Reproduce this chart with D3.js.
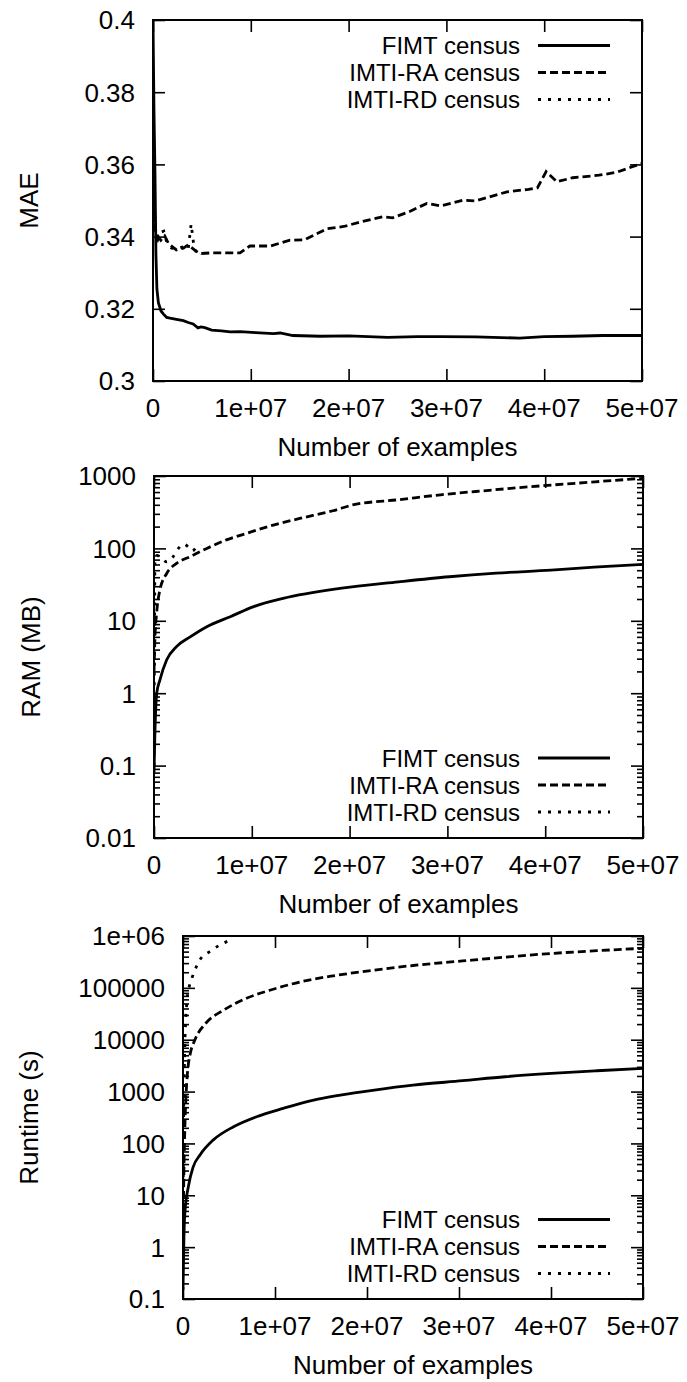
<!DOCTYPE html>
<html>
<head>
<meta charset="utf-8">
<script src="https://cdn.jsdelivr.net/npm/d3@7"></script>
<style>
  body { margin: 0; background: #fff; }
  svg text { font-family: "Liberation Sans", Arial, sans-serif; font-size: 26px; fill: #000; }
  svg text.legend { font-size: 24px; }
</style>
</head>
<body>
<div id="chart"></div>
<script>
// shared axis data
var xTicks = [0, 1e7, 2e7, 3e7, 4e7, 5e7];
var xTickLabels = ["0", "1e+07", "2e+07", "3e+07", "4e+07", "5e+07"];
var seriesNames = ["FIMT census", "IMTI-RA census", "IMTI-RD census"];

// panel 1 - MAE
var maeTicks = [0.3, 0.32, 0.34, 0.36, 0.38, 0.4];
var maeTickLabels = ["0.3", "0.32", "0.34", "0.36", "0.38", "0.4"];
var maeFimt = [[0, 0.4], [0.1e6, 0.375], [0.2e6, 0.358], [0.3e6, 0.335], [0.4e6, 0.3255], [0.55e6, 0.3217],
  [0.82e6, 0.3194], [1.05e6, 0.3186], [1.4e6, 0.3176], [1.74e6, 0.3174], [2.4e6, 0.3171], [3.1e6, 0.3167],
  [3.6e6, 0.3162], [4.1e6, 0.3158], [4.6e6, 0.3147], [4.9e6, 0.315], [5.3e6, 0.3148], [6e6, 0.3141],
  [7e6, 0.3139], [7.9e6, 0.3136], [8.9e6, 0.3137], [1.05e7, 0.3134], [1.23e7, 0.3131], [1.3e7, 0.3133],
  [1.43e7, 0.3126], [1.71e7, 0.3124], [2e7, 0.3125], [2.4e7, 0.3121], [2.7e7, 0.3123], [2.94e7, 0.3123],
  [3.3e7, 0.3122], [3.75e7, 0.3119], [4e7, 0.3123], [4.29e7, 0.3124], [4.6e7, 0.3126], [5e7, 0.3126]];
var maeRa = [[0, 0.357], [0.1e6, 0.35], [0.25e6, 0.342], [0.4e6, 0.3405], [0.8e6, 0.339], [1.2e6, 0.3402],
  [1.6e6, 0.338], [2.4e6, 0.3363], [3.1e6, 0.3368], [3.6e6, 0.3377], [4.3e6, 0.3362], [4.8e6, 0.3353],
  [6e6, 0.3355], [8.9e6, 0.3355], [9.9e6, 0.3374], [1.2e7, 0.3374], [1.4e7, 0.339], [1.55e7, 0.3391],
  [1.78e7, 0.3422], [1.95e7, 0.3428], [2.13e7, 0.3441], [2.35e7, 0.3455], [2.45e7, 0.3452], [2.62e7, 0.3469],
  [2.8e7, 0.3492], [2.94e7, 0.3485], [3.17e7, 0.3501], [3.3e7, 0.3499], [3.62e7, 0.3524], [3.84e7, 0.3531],
  [3.93e7, 0.3535], [4.02e7, 0.358], [4.13e7, 0.3552], [4.29e7, 0.3563], [4.56e7, 0.357], [4.74e7, 0.3578],
  [5e7, 0.3603]];
var maeRd = [[0, 0.356], [0.15e6, 0.345], [0.3e6, 0.3405], [0.5e6, 0.3392], [0.8e6, 0.3412], [1.1e6, 0.3415],
  [1.4e6, 0.3385], [1.9e6, 0.3368], [2.5e6, 0.3367], [3.1e6, 0.3372], [3.6e6, 0.3365], [3.9e6, 0.3435],
  [4.2e6, 0.337], [4.6e6, 0.3346], [4.8e6, 0.3352]];

// panel 2 - RAM
var ramTicks = [0.01, 0.1, 1, 10, 100, 1000];
var ramTickLabels = ["0.01", "0.1", "1", "10", "100", "1000"];
var ramFimt = [[0, 0.08], [0.1e6, 0.3], [0.28e6, 1.0], [0.6e6, 1.52], [1.3e6, 2.9], [2.3e6, 4.4],
  [3.7e6, 6.0], [5.4e6, 8.3], [7.8e6, 11.4], [1.02e7, 15.7], [1.32e7, 20.4], [1.9e7, 28], [2.5e7, 34.5],
  [3.02e7, 40.6], [3.5e7, 45.5], [4.06e7, 50], [4.5e7, 55], [5e7, 60]];
var ramRa = [[0, 2], [0.1e6, 6], [0.25e6, 12], [0.6e6, 26.6], [1.3e6, 45], [2.3e6, 62], [3.7e6, 77],
  [5.4e6, 100], [7.4e6, 131], [9.5e6, 162], [1.22e7, 210], [1.49e7, 259], [1.83e7, 331], [2.03e7, 398],
  [2.5e7, 470], [2.93e7, 550], [3.4e7, 630], [3.83e7, 708], [4.4e7, 810], [5e7, 930]];
var ramRd = [[0, 0.1], [0.05e6, 5], [0.1e6, 70], [0.3e6, 80], [0.7e6, 75], [1.3e6, 65], [1.9e6, 75],
  [2.5e6, 100], [3.0e6, 115], [3.5e6, 105], [3.9e6, 92], [4.4e6, 105], [4.8e6, 112]];

// panel 3 - Runtime
var runTicks = [0.1, 1, 10, 100, 1000, 10000, 100000, 1e6];
var runTickLabels = ["0.1", "1", "10", "100", "1000", "10000", "100000", "1e+06"];
var runFimt = [[0, 0.15], [0.1e6, 1.5], [0.2e6, 4.5], [0.58e6, 14.6], [1.1e6, 35], [1.85e6, 60],
  [3.3e6, 117], [5.5e6, 210], [8e6, 327], [1.09e7, 475], [1.42e7, 687], [1.71e7, 855], [2.08e7, 1070],
  [2.5e7, 1330], [3.04e7, 1620], [3.5e7, 1930], [4e7, 2240], [4.5e7, 2520], [5e7, 2800]];
var runRa = [[0, 1], [0.1e6, 30], [0.2e6, 200], [0.35e6, 1000], [0.55e6, 3000], [0.8e6, 5500], [1.3e6, 1e4],
  [2.5e6, 2.1e4], [4.4e6, 3.7e4], [6.9e6, 6.3e4], [9.8e6, 9.4e4], [1.34e7, 1.38e5], [1.63e7, 1.7e5],
  [2.08e7, 2.2e5], [2.5e7, 2.7e5], [3.04e7, 3.3e5], [3.5e7, 3.9e5], [4e7, 4.6e5], [4.5e7, 5.2e5], [5e7, 5.8e5]];
var runRd = [[0, 1], [0.05e6, 100], [0.15e6, 3000], [0.3e6, 2.5e4], [0.45e6, 6e4], [0.7e6, 1.1e5],
  [1e6, 1.6e5], [1.85e6, 3.5e5], [2.9e6, 5e5], [4e6, 6.7e5], [4.9e6, 8e5]];

var W = 687, H = 1382;
var dashes = [null, "8,4", "3,7"];

var svg = d3.select("#chart").append("svg")
  .attr("width", W)
  .attr("height", H);

function drawPanel(p) {
  var x = d3.scaleLinear().domain([0, 5e7]).range([p.left, p.right]);
  var y = p.log
    ? d3.scaleLog().domain(p.yDomain).range([p.bottom, p.top])
    : d3.scaleLinear().domain(p.yDomain).range([p.bottom, p.top]);

  var g = svg.append("g");
  var clipId = "clip" + p.id;
  g.append("clipPath").attr("id", clipId)
    .append("rect")
    .attr("x", p.left).attr("y", p.top - 2)
    .attr("width", p.right - p.left).attr("height", p.bottom - p.top + 2);

  // minor ticks for log axes
  if (p.log) {
    var minors = [];
    p.yTicks.forEach(function(t, i) {
      if (i < p.yTicks.length - 1) {
        for (var k = 2; k <= 9; k++) minors.push(t * k);
      }
    });
    g.append("g").attr("transform", "translate(" + p.left + ",0)")
      .call(d3.axisRight(y).tickValues(minors).tickSize(6).tickFormat(""));
    g.append("g").attr("transform", "translate(" + p.right + ",0)")
      .call(d3.axisLeft(y).tickValues(minors).tickSize(6).tickFormat(""));
  }

  // inward major ticks on all four sides
  g.append("g").attr("transform", "translate(" + p.left + ",0)")
    .call(d3.axisRight(y).tickValues(p.yTicks).tickSize(12).tickFormat(""));
  g.append("g").attr("transform", "translate(" + p.right + ",0)")
    .call(d3.axisLeft(y).tickValues(p.yTicks).tickSize(12).tickFormat(""));
  g.append("g").attr("transform", "translate(0," + p.bottom + ")")
    .call(d3.axisTop(x).tickValues(xTicks).tickSize(12).tickFormat(""));
  g.append("g").attr("transform", "translate(0," + p.top + ")")
    .call(d3.axisBottom(x).tickValues(xTicks).tickSize(12).tickFormat(""));

  g.selectAll(".domain").remove();
  g.selectAll(".tick line").attr("stroke", "#000").attr("stroke-width", 1.6);

  // tick labels
  g.append("g").selectAll("text")
    .data(p.yTicks)
    .enter().append("text")
    .attr("x", p.left - 18)
    .attr("y", function(d) { return y(d); })
    .attr("dy", "0.36em")
    .style("text-anchor", "end")
    .text(function(d, i) { return p.yLabels[i]; });

  g.append("g").selectAll("text")
    .data(xTicks)
    .enter().append("text")
    .attr("x", function(d) { return x(d); })
    .attr("y", p.bottom + 27)
    .attr("dy", "0.36em")
    .style("text-anchor", "middle")
    .text(function(d, i) { return xTickLabels[i]; });

  // axis titles
  g.append("text")
    .attr("x", (p.left + p.right) / 2)
    .attr("y", p.bottom + 66)
    .attr("dy", "0.36em")
    .style("text-anchor", "middle")
    .text("Number of examples");

  g.append("text")
    .attr("transform", "translate(" + p.titleX + "," + (p.top + p.bottom) / 2 + ") rotate(-90)")
    .attr("dy", "0.36em")
    .style("text-anchor", "middle")
    .text(p.yTitle);

  // lines
  var line = d3.line()
    .x(function(d) { return x(d[0]); })
    .y(function(d) { return y(d[1]); })
    .curve(p.log ? d3.curveMonotoneX : d3.curveLinear);

  var lines = g.append("g").attr("clip-path", "url(#" + clipId + ")");
  p.series.forEach(function(s, i) {
    lines.append("path")
      .datum(s)
      .attr("d", line)
      .attr("fill", "none")
      .attr("stroke", "#000")
      .attr("stroke-width", 2.8)
      .attr("stroke-dasharray", dashes[i]);
  });

  // border
  g.append("rect")
    .attr("x", p.left).attr("y", p.top)
    .attr("width", p.right - p.left).attr("height", p.bottom - p.top)
    .attr("fill", "none").attr("stroke", "#000").attr("stroke-width", 2);

  // legend
  seriesNames.forEach(function(name, i) {
    var ly = p.legendY + i * 27;
    g.append("text")
      .attr("class", "legend")
      .attr("x", 520)
      .attr("y", ly)
      .attr("dy", "0.36em")
      .style("text-anchor", "end")
      .text(name);
    g.append("line")
      .attr("x1", 538).attr("x2", 610)
      .attr("y1", ly).attr("y2", ly)
      .attr("stroke", "#000")
      .attr("stroke-width", 2.8)
      .attr("stroke-dasharray", dashes[i]);
  });
}

drawPanel({
  id: 1, left: 153, right: 642, top: 20, bottom: 381, log: false,
  yDomain: [0.3, 0.4], yTicks: maeTicks, yLabels: maeTickLabels,
  yTitle: "MAE", titleX: 29, legendY: 45.5,
  series: [maeFimt, maeRa, maeRd]
});

drawPanel({
  id: 2, left: 154, right: 643, top: 476, bottom: 838, log: true,
  yDomain: [0.01, 1000], yTicks: ramTicks, yLabels: ramTickLabels,
  yTitle: "RAM (MB)", titleX: 31, legendY: 758,
  series: [ramFimt, ramRa, ramRd]
});

drawPanel({
  id: 3, left: 183, right: 643, top: 936, bottom: 1299, log: true,
  yDomain: [0.1, 1e6], yTicks: runTicks, yLabels: runTickLabels,
  yTitle: "Runtime (s)", titleX: 29, legendY: 1219.5,
  series: [runFimt, runRa, runRd]
});
</script>
</body>
</html>
